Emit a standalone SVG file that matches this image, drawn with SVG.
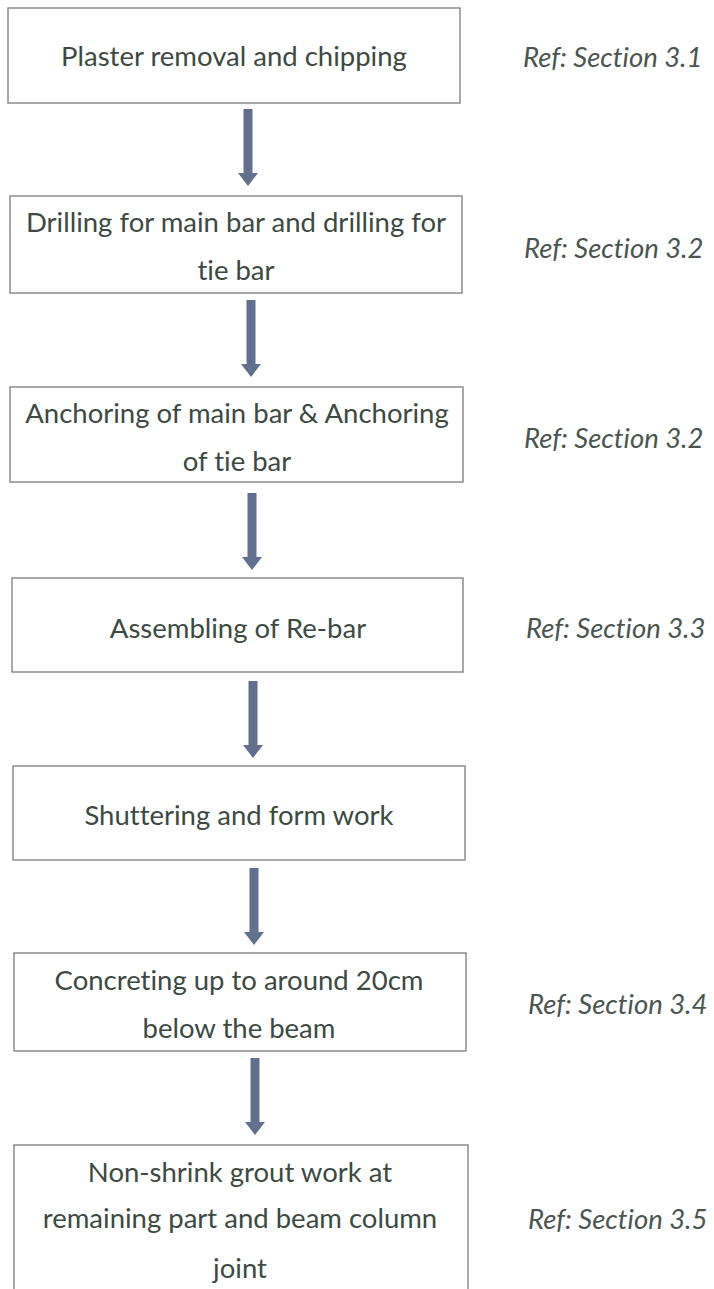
<svg xmlns="http://www.w3.org/2000/svg" width="714" height="1289" viewBox="0 0 714 1289">
  <style>
    .box { fill: #ffffff; stroke: #8c8c8c; stroke-width: 1.5; }
    .lbl { font-family: Lato, "Liberation Sans", sans-serif; font-size: 27.5px; fill: #3c4a42; text-anchor: middle; font-variant-ligatures: none; font-feature-settings: "liga" 0, "clig" 0, "dlig" 0; }
    .ref { font-family: Lato, "Liberation Sans", sans-serif; font-size: 27.5px; font-style: italic; fill: #4a5550; font-variant-ligatures: none; font-feature-settings: "liga" 0, "clig" 0, "dlig" 0; }
    .arrow { fill: #627090; }
  </style>
  <defs>
    <!-- block arrow: shaft with a wide triangular head, pointing down -->
    <path id="down" d="M -4.5 0 H 4.5 V 64 H 10 L 0 77 L -10 64 H -4.5 Z"/>
  </defs>
  <rect width="714" height="1289" fill="#ffffff"/>

  <g id="connectors" class="arrow">
    <use href="#down" x="248" y="109"/>
    <use href="#down" x="251" y="300"/>
    <use href="#down" x="252" y="493"/>
    <use href="#down" x="253" y="681"/>
    <use href="#down" x="254" y="868"/>
    <use href="#down" x="255" y="1058"/>
  </g>

  <g id="step1">
    <rect class="box" x="8" y="8" width="452" height="95"/>
    <text class="lbl" x="234" y="66">Plaster removal and chipping</text>
  </g>
  <g id="step2">
    <rect class="box" x="10" y="196" width="452" height="97"/>
    <text class="lbl" x="236" y="232">Drilling for main bar and drilling for</text>
    <text class="lbl" x="236" y="280">tie bar</text>
  </g>
  <g id="step3">
    <rect class="box" x="10" y="387" width="453" height="95"/>
    <text class="lbl" x="237" y="423">Anchoring of main bar &amp; Anchoring</text>
    <text class="lbl" x="237" y="471">of tie bar</text>
  </g>
  <g id="step4">
    <rect class="box" x="12" y="578" width="451" height="94"/>
    <text class="lbl" x="238" y="638">Assembling of Re-bar</text>
  </g>
  <g id="step5">
    <rect class="box" x="13" y="766" width="452" height="94"/>
    <text class="lbl" x="239" y="825">Shuttering and form work</text>
  </g>
  <g id="step6">
    <rect class="box" x="14" y="953" width="452" height="98"/>
    <text class="lbl" x="239" y="990">Concreting up to around 20cm</text>
    <text class="lbl" x="239" y="1038">below the beam</text>
  </g>
  <g id="step7">
    <path class="box" d="M 14 1300 V 1145 H 468 V 1300"/>
    <text class="lbl" x="240" y="1182">Non-shrink grout work at</text>
    <text class="lbl" x="240" y="1228">remaining part and beam column</text>
    <text class="lbl" x="240" y="1278">joint</text>
  </g>

  <g id="references">
    <text class="ref" x="523" y="67">Ref: Section 3.1</text>
    <text class="ref" x="524" y="258">Ref: Section 3.2</text>
    <text class="ref" x="524" y="448">Ref: Section 3.2</text>
    <text class="ref" x="526" y="638">Ref: Section 3.3</text>
    <text class="ref" x="528" y="1014">Ref: Section 3.4</text>
    <text class="ref" x="528" y="1229">Ref: Section 3.5</text>
  </g>
</svg>
